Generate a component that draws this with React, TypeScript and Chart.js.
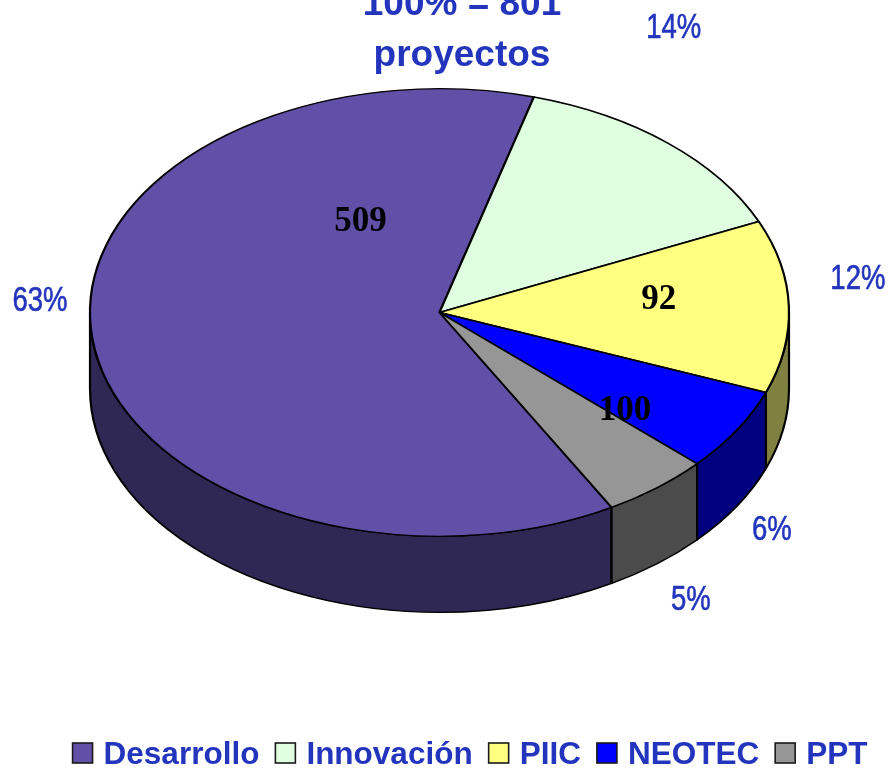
import React, { useEffect, useRef } from 'react';
import { Chart, registerables } from 'chart.js';

Chart.register(...registerables);

// ---- data ----
const categories = ['Desarrollo', 'Innovación', 'PIIC', 'NEOTEC', 'PPT'];
const projectCounts = [501, 112, 100, 48, 40];
const topColors = ['#6150a8', '#e0ffe0', '#ffff80', '#0000ff', '#969696'];
const sideColors = ['#302854', '#708070', '#808040', '#000080', '#4b4b4b'];
const titleLines = ['100% = 801', 'proyectos'];
const valueLabels = ['509', '92', '100'];

// ---- layout / style (positions in units of the ellipse radii) ----
const pctLabelPos = [
  [-1.143, -0.006],
  [0.67, -1.226],
  [1.197, -0.106],
  [0.951, 1.018],
  [0.719, 1.33],
];
const valueLabelPos = [
  [-0.226, -0.366],
  [0.627, -0.017],
  [0.531, 0.479],
];
const DEPTH_RATIO = 0.34;
const BLUE = '#2335bd';

const pie3d = {
  id: 'pie3d',
  beforeDatasetsDraw(chart: any) {
    const meta = chart.getDatasetMeta(0);
    const arcs = meta.data;
    const ctx = chart.ctx;
    ctx.save();
    chart.$pie3dSaved = true;
    if (!arcs.length) return;
    const a0: any = arcs[0];
    const cx = a0.x, cy = a0.y, r = a0.outerRadius;
    const sx = (chart.chartArea.right - chart.chartArea.left) / 2 / r;
    ctx.translate(cx, cy);
    ctx.scale(sx, 1);
    ctx.translate(-cx, -cy);
    const D = r * DEPTH_RATIO;
    arcs.forEach((arc: any, i: number) => {
      const s = arc.startAngle, e = arc.endAngle;
      for (let k = -2; k <= 2; k++) {
        const lo = Math.max(s, 2 * Math.PI * k);
        const hi = Math.min(e, 2 * Math.PI * k + Math.PI);
        if (hi - lo > 1e-6) {
          ctx.beginPath();
          ctx.arc(cx, cy, r, lo, hi, false);
          ctx.lineTo(cx + r * Math.cos(hi), cy + r * Math.sin(hi) + D);
          ctx.arc(cx, cy + D, r, hi, lo, true);
          ctx.closePath();
          ctx.fillStyle = sideColors[i];
          ctx.fill();
          ctx.lineWidth = 1.4;
          ctx.strokeStyle = '#000';
          ctx.lineJoin = 'round';
          ctx.stroke();
        }
      }
    });
  },
  afterDatasetsDraw(chart: any) {
    if (chart.$pie3dSaved) {
      chart.ctx.restore();
      chart.$pie3dSaved = false;
    }
  },
  afterDraw(chart: any) {
    const ctx = chart.ctx;
    const meta = chart.getDatasetMeta(0);
    const a0: any = meta.data[0];
    if (!a0) return;
    const cx = a0.x, cy = a0.y;
    const rx = (chart.chartArea.right - chart.chartArea.left) / 2;
    const ry = a0.outerRadius;
    const data: number[] = chart.data.datasets[0].data;
    const total = data.reduce((a, b) => a + b, 0);

    // title
    ctx.save();
    ctx.fillStyle = BLUE;
    ctx.font = "bold 37px 'Liberation Sans', Arial, sans-serif";
    ctx.textAlign = 'center';
    ctx.textBaseline = 'alphabetic';
    ctx.fillText(titleLines[0], 462, 15);
    ctx.fillText(titleLines[1], 462, 66);
    ctx.restore();

    // percentage labels
    data.forEach((v, i) => {
      const txt = Math.round((v / total) * 100) + '%';
      const [ux, uy] = pctLabelPos[i];
      ctx.save();
      ctx.translate(cx + ux * rx, cy + uy * ry);
      ctx.scale(1, 1.25);
      ctx.fillStyle = BLUE;
      ctx.strokeStyle = BLUE;
      ctx.lineWidth = 0.5;
      ctx.font = "27.5px 'Liberation Sans', Arial, sans-serif";
      ctx.textAlign = 'center';
      ctx.textBaseline = 'alphabetic';
      ctx.fillText(txt, 0, 0);
      ctx.strokeText(txt, 0, 0);
      ctx.restore();
    });

    // value annotations
    valueLabels.forEach((t, i) => {
      const [ux, uy] = valueLabelPos[i];
      ctx.save();
      ctx.fillStyle = '#000';
      ctx.font = "bold 35px 'Liberation Serif', 'Times New Roman', serif";
      ctx.textAlign = 'center';
      ctx.textBaseline = 'alphabetic';
      ctx.fillText(t, cx + ux * rx, cy + uy * ry);
      ctx.restore();
    });

    // legend
    const labels: string[] = chart.data.labels;
    const colors: string[] = chart.data.datasets[0].backgroundColor;
    ctx.save();
    ctx.font = "bold 31.5px 'Liberation Sans', Arial, sans-serif";
    const box = 20, gapBoxText = 11, gapItems = 16;
    const widths = labels.map((l) => ctx.measureText(l).width);
    const totalW = widths.reduce((a, w) => a + box + gapBoxText + w, 0) + gapItems * (labels.length - 1);
    let x = 470 - totalW / 2;
    const boxTop = 743, baseline = 764;
    labels.forEach((l, i) => {
      ctx.fillStyle = colors[i];
      ctx.fillRect(x, boxTop, box, box);
      ctx.lineWidth = 1.6;
      ctx.strokeStyle = '#1a1a1a';
      ctx.strokeRect(x, boxTop, box, box);
      ctx.fillStyle = BLUE;
      ctx.textAlign = 'left';
      ctx.textBaseline = 'alphabetic';
      ctx.fillText(l, x + box + gapBoxText, baseline);
      x += box + gapBoxText + widths[i] + gapItems;
    });
    ctx.restore();
  },
};

export default function App() {
  const ref = useRef<HTMLCanvasElement | null>(null);
  useEffect(() => {
    if (!ref.current) return;
    const chart = new Chart(ref.current, {
      type: 'pie',
      data: {
        labels: categories,
        datasets: [
          {
            data: projectCounts,
            backgroundColor: topColors,
            borderColor: '#000',
            borderWidth: 1.4,
            hoverOffset: 0,
            offset: 0,
            clip: false as any,
          } as any,
        ],
      },
      options: {
        animation: false,
        responsive: false,
        maintainAspectRatio: false,
        devicePixelRatio: 1,
        rotation: 150.5,
        layout: { padding: { left: 90, right: 102, top: 88, bottom: 231 } },
        plugins: {
          legend: { display: false },
          title: { display: false },
          tooltip: { enabled: false },
        },
        events: [],
      } as any,
      plugins: [pie3d],
    });
    return () => chart.destroy();
  }, []);
  return (
    <div style={{ position: 'absolute', left: 0, top: 0, width: 891, height: 768, background: '#fff' }}>
      <canvas ref={ref} width={891} height={768} style={{ display: 'block', width: 891, height: 768 }} />
    </div>
  );
}
